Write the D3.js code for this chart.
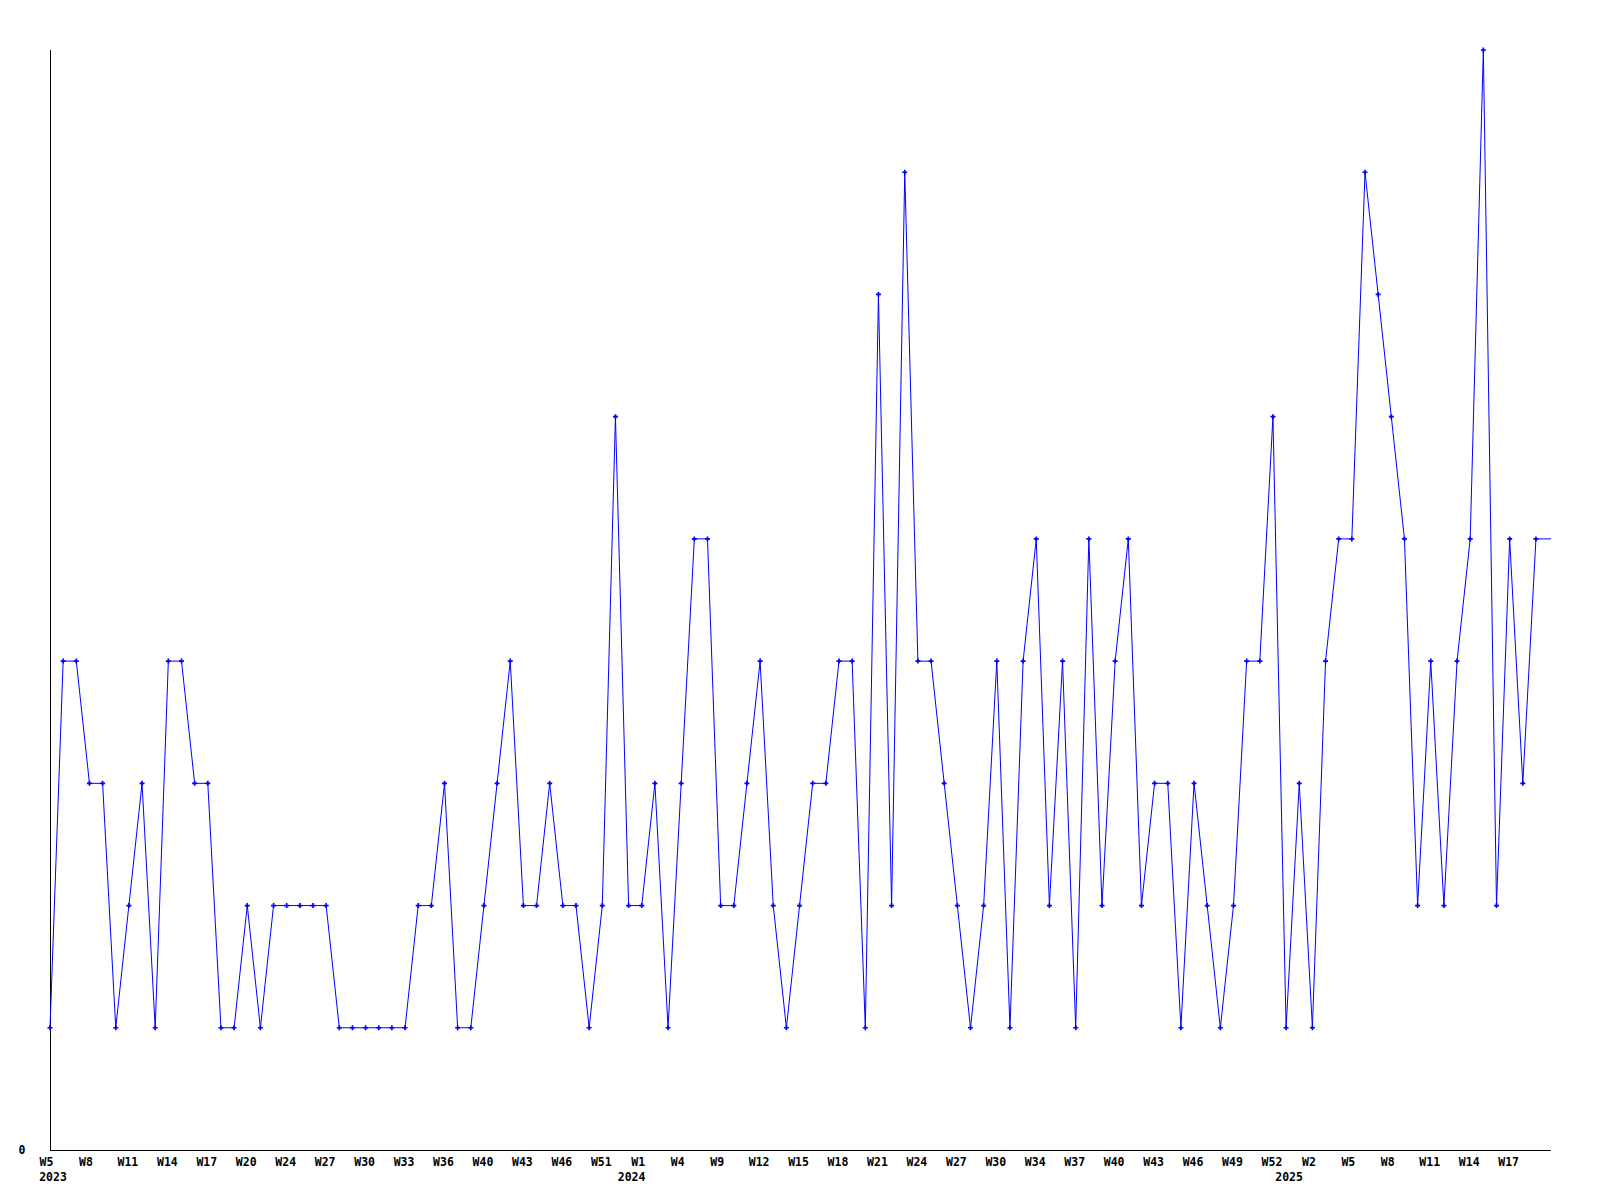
<!DOCTYPE html>
<html>
<head>
<meta charset="utf-8">
<script src="https://cdn.jsdelivr.net/npm/d3@7"></script>
<style>
  html, body { margin: 0; padding: 0; background: #fff; }
  svg { display: block; }
  text { font-family: "DejaVu Sans Mono", "Liberation Mono", monospace; font-weight: bold; font-size: 11.5px; fill: #000; }
</style>
</head>
<body>
<svg id="chart" width="1600" height="1200"></svg>
<script>
// Weekly values, one per point (ordinal positions)
const values = [
  1, 4, 4, 3, 3, 1, 2, 3, 1, 4,
  4, 3, 3, 1, 1, 2, 1, 2, 2, 2,
  2, 2, 1, 1, 1, 1, 1, 1, 2, 2,
  3, 1, 1, 2, 3, 4, 2, 2, 3, 2,
  2, 1, 2, 6, 2, 2, 3, 1, 3, 5,
  5, 2, 2, 3, 4, 2, 1, 2, 3, 3,
  4, 4, 1, 7, 2, 8, 4, 4, 3, 2,
  1, 2, 4, 1, 4, 5, 2, 4, 1, 5,
  2, 4, 5, 2, 3, 3, 1, 3, 2, 1,
  2, 4, 4, 6, 1, 3, 1, 4, 5, 5,
  8, 7, 6, 5, 2, 4, 2, 4, 5, 9,
  2, 5, 3, 5
];

// Week tick labels, shown at every third point
const weekLabels = [
  "W5", "W8", "W11", "W14", "W17", "W20", "W24", "W27", "W30", "W33",
  "W36", "W40", "W43", "W46", "W51", "W1", "W4", "W9", "W12", "W15",
  "W18", "W21", "W24", "W27", "W30", "W34", "W37", "W40", "W43", "W46",
  "W49", "W52", "W2", "W5", "W8", "W11", "W14", "W17"
];
const labelStep = 3;

// Year labels and the point index they sit under
const yearLabels = ["2023", "2024", "2025"];
const yearIndex = [0, 44, 94];

const yMax = 9;
const yTickLabels = ["0"];

(function () {
  const svg = d3.select("#chart");
  const mLeft = 50, mTop = 50, mBottom = 1150;
  const step = 13.15;
  const nSlots = values.length; // axis runs one slot past the last point

  const x = d3.scaleLinear().domain([0, nSlots]).range([mLeft, mLeft + nSlots * step]);
  const y = d3.scaleLinear().domain([0, yMax]).range([mBottom, mTop]);

  // axes lines
  svg.append("line")
    .attr("x1", x(0) + 0.5).attr("x2", x(0) + 0.5)
    .attr("y1", y(yMax)).attr("y2", y(0) + 0.5)
    .attr("stroke", "#000").attr("stroke-width", 1)
    .attr("shape-rendering", "crispEdges");
  svg.append("line")
    .attr("x1", x(0)).attr("x2", x(nSlots) + 2)
    .attr("y1", y(0) + 0.5).attr("y2", y(0) + 0.5)
    .attr("stroke", "#000").attr("stroke-width", 1)
    .attr("shape-rendering", "crispEdges");

  // y label "0"
  svg.selectAll("text.ylab").data(yTickLabels).join("text")
    .attr("class", "ylab")
    .attr("x", 22).attr("y", d => y(+d) + 4)
    .attr("text-anchor", "middle")
    .text(d => d);

  // x week labels
  svg.selectAll("text.wlab").data(weekLabels).join("text")
    .attr("class", "wlab")
    .attr("x", (d, i) => x(i * labelStep) + (d.length < 3 ? -3.5 : -1))
    .attr("y", 1166)
    .attr("text-anchor", "middle")
    .text(d => d);

  // year labels
  svg.selectAll("text.yrlab").data(yearLabels).join("text")
    .attr("class", "yrlab")
    .attr("x", (d, i) => x(yearIndex[i]) + 3)
    .attr("y", 1181)
    .attr("text-anchor", "middle")
    .text(d => d);

  // line (extended flat to the end of the axis)
  const pts = values.map((v, i) => [x(i), y(v)]);
  pts.push([x(nSlots) + 2, y(values[values.length - 1])]);
  svg.append("path")
    .attr("d", d3.line()(pts))
    .attr("fill", "none")
    .attr("stroke", "#0000ff")
    .attr("stroke-width", 1);

  // markers
  svg.selectAll("path.mk").data(values).join("path")
    .attr("class", "mk")
    .attr("transform", (d, i) => `translate(${x(i)},${y(d)})`)
    .attr("d", d3.symbol(d3.symbolCross, 14))
    .attr("fill", "#0000ff");
})();
</script>
</body>
</html>
